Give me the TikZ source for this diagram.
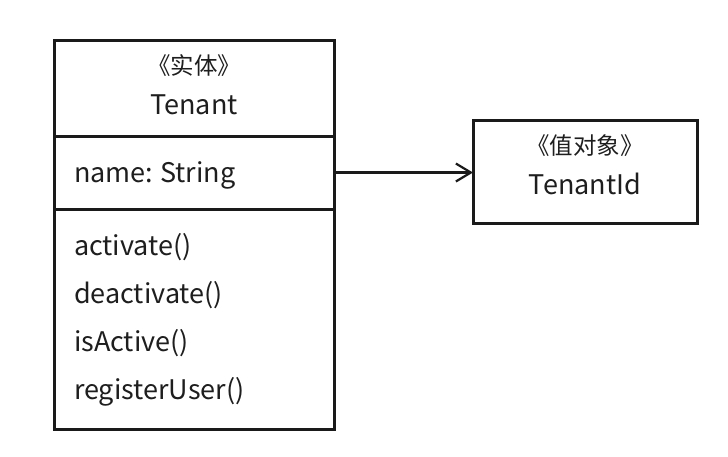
\documentclass[tikz,border=0pt]{standalone}
\usepackage{fontspec}
\setmainfont{Noto Sans CJK SC}
\usetikzlibrary{positioning,arrows.meta}
\definecolor{umlline}{HTML}{1A1A1A}
\definecolor{umltext}{HTML}{1E1E1E}
\newcommand{\stereo}[1]{{\fontsize{23.5}{40}\selectfont #1}}

\begin{document}
\begin{tikzpicture}[x=1pt, y=-1pt,
    umlbox/.style={draw=umlline, line width=3pt, inner sep=0pt, outer sep=0pt,
        text=umltext, font=\fontsize{27}{40}\selectfont\frenchspacing},
    compart/.style={umlbox, minimum width=280, text width=240, align=left},
    assoc/.style={draw=umlline, line width=2.2pt, -{Straight Barb[length=15pt, width=18pt, line width=2.2pt]}}]
    \useasboundingbox (0,0) rectangle (728,456);

    % Classe Tenant
    \node[umlbox, minimum width=280, minimum height=96, text width=240, align=center,
        text height=12pt, text depth=40pt, anchor=north west] (head) at (54,40)
        {\stereo{《实体》}\\Tenant};
    \node[compart, minimum height=73, text height=19pt, text depth=0pt, below=0pt of head] (attrs)
        {name:\kern-2pt{} String};
    \node[compart, minimum height=220, text height=17pt, text depth=145pt, below=0pt of attrs,
        font=\fontsize{27}{48.3}\selectfont] (ops)
        {activate()\\deactivate()\\isActive()\\registerUser()};

    % Value object
    \node[umlbox, minimum width=224, minimum height=103, text width=200, align=center,
        text height=5pt, text depth=40pt] (tid) at (585,171.5)
        {\stereo{《值对象》}\\TenantId};

    % Associazione
    \draw[assoc] (attrs.east) -- (tid.west |- attrs.east);
\end{tikzpicture}
\end{document}
